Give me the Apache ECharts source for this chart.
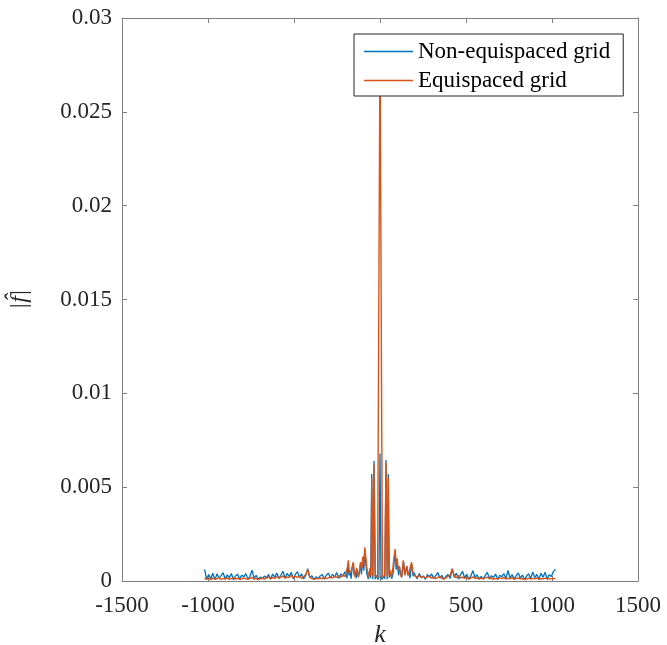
<!DOCTYPE html>
<html>
<head>
<meta charset="utf-8">
<script src="https://cdn.jsdelivr.net/npm/echarts@6/dist/echarts.min.js"></script>
<style>html,body{margin:0;padding:0;background:#fff}#c{width:667px;height:645px}</style>
</head>
<body>
<div id="c"></div>
<script>
// ---- data ----
const seriesNames = ['Non-equispaced grid', 'Equispaced grid'];
const xTicks = [-1500, -1000, -500, 0, 500, 1000, 1500];
const yTicks = [0, 0.005, 0.01, 0.015, 0.02, 0.025, 0.03];

const kLeft = [-1020,-1008,-996,-984,-972,-960,-948,-936,-924,-912,-900,-888,-876,-864,-852,-840,-828,-816,-804,-792,-780,-768,-756,-744,-732,-720,-708,-696,-684,-672,-660,-648,-636,-624,-612,-600,-588,-576,-564,-552,-540,-528,-516,-504,-492,-480,-468,-456,-444,-432,-420,-408,-396,-384,-372,-360,-348,-336,-324,-312,-300,-288,-276,-264,-252,-240,-228,-216,-204];
const kRight = [204,216,228,240,252,264,276,288,300,312,324,336,348,360,372,384,396,408,420,432,444,456,468,480,492,504,516,528,540,552,564,576,588,600,612,624,636,648,660,672,684,696,708,720,732,744,756,768,780,792,804,816,828,840,852,864,876,888,900,912,924,936,948,960,972,984,996,1008,1020];

const blueLeft = [0.00062,0.00008,0.00035,0.00012,0.00041,0.00006,0.00038,0.00015,0.00029,0.00044,0.00009,0.00033,0.00018,0.00040,0.00007,0.00027,0.00036,0.00011,0.00031,0.00022,0.00039,0.00010,0.00025,0.00058,0.00014,0.00030,0.00008,0.00021,0.00012,0.00026,0.00018,0.00034,0.00009,0.00037,0.00020,0.00043,0.00013,0.00032,0.00052,0.00016,0.00041,0.00024,0.00046,0.00012,0.00035,0.00050,0.00019,0.00038,0.00011,0.00030,0.00066,0.00017,0.00028,0.00008,0.00022,0.00013,0.00027,0.00035,0.00010,0.00031,0.00042,0.00015,0.00036,0.00020,0.00045,0.00014,0.00038,0.00026,0.00049];
const blueRight = [0.00031,0.00012,0.00040,0.00018,0.00027,0.00009,0.00034,0.00021,0.00038,0.00013,0.00029,0.00045,0.00016,0.00030,0.00008,0.00025,0.00035,0.00014,0.00064,0.00019,0.00042,0.00011,0.00033,0.00052,0.00016,0.00036,0.00009,0.00027,0.00055,0.00020,0.00033,0.00012,0.00024,0.00010,0.00030,0.00046,0.00014,0.00028,0.00019,0.00037,0.00008,0.00031,0.00022,0.00040,0.00013,0.00056,0.00017,0.00034,0.00010,0.00029,0.00043,0.00015,0.00032,0.00007,0.00026,0.00039,0.00012,0.00048,0.00018,0.00035,0.00009,0.00041,0.00020,0.00047,0.00011,0.00033,0.00024,0.00050,0.00063];
const kBlueCenter = [-198,-192,-186,-180,-174,-168,-162,-156,-150,-144,-138,-132,-126,-120,-114,-108,-100,-94,-88,-82,-76,-68,-60,-54,-48,-42,-35,-28,-20,-12,-6,0,6,12,20,28,35,42,48,54,60,68,76,82,88,94,100,108,114,120,126,132,138,144,150,156,162,168,174,180,186,192,198];
const blueCenter = [0.00040,0.00015,0.00090,0.00030,0.00050,0.00012,0.00070,0.00095,0.00030,0.00050,0.00015,0.00060,0.00025,0.00045,0.00095,0.00035,0.00120,0.00055,0.00160,0.00090,0.00035,0.00010,0.00060,0.00015,0.00570,0.00010,0.00640,0.00010,0.00030,0.00008,0.00020,0.00680,0.00020,0.00008,0.00025,0.00012,0.00645,0.00010,0.00570,0.00018,0.00055,0.00012,0.00040,0.00100,0.00155,0.00060,0.00110,0.00030,0.00075,0.00040,0.00020,0.00065,0.00100,0.00035,0.00055,0.00080,0.00030,0.00050,0.00015,0.00060,0.00085,0.00025,0.00045];

const orangeLeft = [0.00015,0.00009,0.00013,0.00007,0.00016,0.00010,0.00012,0.00018,0.00008,0.00014,0.00011,0.00017,0.00009,0.00013,0.00020,0.00010,0.00015,0.00008,0.00012,0.00016,0.00011,0.00009,0.00014,0.00019,0.00010,0.00013,0.00007,0.00012,0.00016,0.00010,0.00015,0.00021,0.00012,0.00018,0.00014,0.00024,0.00016,0.00020,0.00027,0.00015,0.00022,0.00018,0.00031,0.00017,0.00025,0.00019,0.00028,0.00014,0.00022,0.00035,0.00060,0.00020,0.00013,0.00009,0.00014,0.00011,0.00016,0.00012,0.00019,0.00013,0.00017,0.00022,0.00016,0.00025,0.00019,0.00028,0.00020,0.00031,0.00024];
const orangeRight = [0.00028,0.00021,0.00030,0.00018,0.00024,0.00016,0.00022,0.00027,0.00015,0.00020,0.00013,0.00019,0.00024,0.00014,0.00011,0.00017,0.00026,0.00031,0.00065,0.00025,0.00018,0.00029,0.00016,0.00021,0.00014,0.00019,0.00011,0.00016,0.00022,0.00013,0.00018,0.00010,0.00015,0.00012,0.00017,0.00021,0.00012,0.00016,0.00009,0.00014,0.00011,0.00017,0.00013,0.00019,0.00010,0.00015,0.00012,0.00018,0.00009,0.00014,0.00016,0.00011,0.00013,0.00008,0.00012,0.00015,0.00010,0.00014,0.00011,0.00016,0.00009,0.00013,0.00012,0.00015,0.00010,0.00013,0.00011,0.00014,0.00012];
const kOrangeCenter = [-196,-190,-184,-178,-172,-166,-160,-155,-150,-145,-140,-135,-130,-125,-118,-112,-105,-100,-95,-88,-82,-75,-66,-58,-52,-48,-42,-35,-28,-20,-14,0,14,20,28,35,42,48,52,58,66,75,82,88,95,100,105,112,118,125,130,135,140,145,150,155,160,166,172,178,184,190,196];
const orangeCenter = [0.0003,0.0007,0.0011,0.0004,0.0003,0.0006,0.0008,0.0010,0.0005,0.0002,0.0005,0.0007,0.0004,0.0002,0.0006,0.0010,0.0007,0.0013,0.0009,0.0018,0.0012,0.0006,0.0002,0.0007,0.0003,0.0055,0.0002,0.0062,0.0003,0.0002,0.0002,0.0290,0.0002,0.0002,0.0003,0.0063,0.0002,0.0055,0.0003,0.0006,0.0002,0.0007,0.0013,0.0017,0.0008,0.0012,0.0006,0.0008,0.0004,0.0002,0.0006,0.0011,0.0006,0.0003,0.0005,0.0008,0.0005,0.0003,0.0006,0.0005,0.0010,0.0005,0.0003];

function pairs(ks, vs) { return ks.map((k, i) => [k, vs[i]]); }
const blueData = pairs(kLeft, blueLeft).concat(pairs(kBlueCenter, blueCenter), pairs(kRight, blueRight));
const orangeData = pairs(kLeft, orangeLeft).concat(pairs(kOrangeCenter, orangeCenter), pairs(kRight, orangeRight));

// ---- chart ----
const FONT = 'Liberation Serif';
const axisColor = '#808080';
const textColor = '#262626';
const chart = echarts.init(document.getElementById('c'), null, {renderer: 'canvas'});
const fmtY = v => String(+v.toFixed(3));
const fmtX = v => String(v);
chart.setOption({
  animation: false,
  backgroundColor: '#fff',
  grid: {left: 122, right: 29, top: 18, bottom: 64, containLabel: false, outerBoundsMode: 'none'},
  legend: {
    left: 354, top: 34, orient: 'vertical',
    data: seriesNames,
    icon: 'rect',
    itemWidth: 49, itemHeight: 1.5, itemGap: 0,
    padding: [3, 13, 1, 10],
    borderColor: '#262626', borderWidth: 1, backgroundColor: '#fff',
    textStyle: {fontFamily: FONT, fontSize: 23, color: '#000', lineHeight: 29},
    selectedMode: false
  },
  xAxis: [{
    type: 'value', min: xTicks[0], max: xTicks[xTicks.length - 1], interval: 500,
    position: 'bottom',
    axisLine: {onZero: false, lineStyle: {color: axisColor, width: 1}},
    axisTick: {inside: true, length: 5, lineStyle: {color: axisColor}},
    axisLabel: {fontFamily: FONT, fontSize: 23, color: textColor, margin: 13, formatter: fmtX},
    splitLine: {show: false},
    name: 'k', nameLocation: 'middle', nameGap: 33,
    nameTextStyle: {fontFamily: FONT, fontSize: 26, fontStyle: 'italic', color: textColor}
  }, {
    type: 'value', min: xTicks[0], max: xTicks[xTicks.length - 1], interval: 500,
    position: 'top',
    axisLine: {onZero: false, lineStyle: {color: axisColor, width: 1}},
    axisTick: {inside: true, length: 5, lineStyle: {color: axisColor}},
    axisLabel: {show: false}, splitLine: {show: false}
  }],
  yAxis: [{
    type: 'value', min: yTicks[0], max: yTicks[yTicks.length - 1], interval: 0.005,
    position: 'left',
    axisLine: {show: true, onZero: false, lineStyle: {color: axisColor, width: 1}},
    axisTick: {show: true, inside: true, length: 5, lineStyle: {color: axisColor}},
    axisLabel: {fontFamily: FONT, fontSize: 23, color: textColor, margin: 10, formatter: fmtY},
    splitLine: {show: false},
    name: '|f\u0302|', nameLocation: 'middle', nameGap: 90, nameRotate: 90,
    nameTextStyle: {fontFamily: FONT, fontSize: 24, fontStyle: 'italic', color: textColor}
  }, {
    type: 'value', min: yTicks[0], max: yTicks[yTicks.length - 1], interval: 0.005,
    position: 'right',
    axisLine: {show: true, onZero: false, lineStyle: {color: axisColor, width: 1}},
    axisTick: {show: true, inside: true, length: 5, lineStyle: {color: axisColor}},
    axisLabel: {show: false}, splitLine: {show: false}
  }],
  series: [{
    name: seriesNames[0], type: 'line', data: blueData, xAxisIndex: 0, yAxisIndex: 0,
    symbol: 'none', showSymbol: false,
    lineStyle: {color: '#0072BD', width: 1.3}, itemStyle: {color: '#0072BD'}
  }, {
    name: seriesNames[1], type: 'line', data: orangeData, xAxisIndex: 0, yAxisIndex: 0,
    symbol: 'none', showSymbol: false,
    lineStyle: {color: '#D95319', width: 1.4}, itemStyle: {color: '#D95319'}
  }]
});
</script>
</body>
</html>
